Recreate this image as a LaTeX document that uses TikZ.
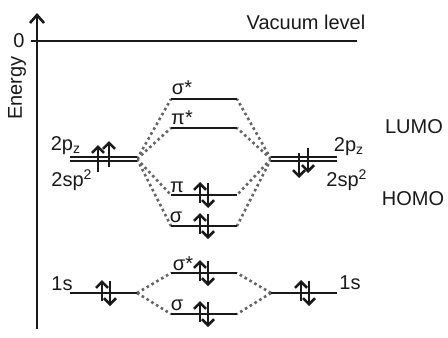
\documentclass[tikz,border=0pt]{standalone}
\usepackage{fontspec}
\setmainfont{Liberation Sans}
\usetikzlibrary{arrows.meta}

\newcommand{\coordOrbitales}{
\coordinate (EjeB) at (37,329);
\coordinate (EjeT) at (37,13);
\coordinate (CeroA) at (31,41);
\coordinate (CeroB) at (357,41);
\coordinate (IzqPa) at (70,159);
\coordinate (IzqPb) at (137,159);
\coordinate (IzqSa) at (70,293);
\coordinate (IzqSb) at (137,293);
\coordinate (DerPa) at (271,159);
\coordinate (DerPb) at (337,159);
\coordinate (DerSa) at (271,293);
\coordinate (DerSb) at (337,293);
\foreach \n/\y in {SigE/99,PiE/128,Pi/195,Sig/226,SigEs/273,Sigs/314}{
\coordinate (\n a) at (171,\y);
\coordinate (\n b) at (237,\y);
}
}
\newcommand{\nivelesOrbitales}{
\draw[nivelDoble] (IzqPa)--(IzqPb);
\draw[nivelDoble] (DerPa)--(DerPb);
\draw[nivel] (IzqSa)--(IzqSb);
\draw[nivel] (DerSa)--(DerSb);
\foreach \n in {SigE,PiE,Pi,Sig,SigEs,Sigs}{
\draw[nivel] (\n a)--(\n b);
}
}
\newcommand{\conexionesOrbitales}{
\foreach \n in {SigE,PiE,Pi,Sig}{
\draw[conexion] (IzqPb)--(\n a);
\draw[conexion] (DerPa)--(\n b);
}
\foreach \n in {SigEs,Sigs}{
\draw[conexion] (IzqSb)--(\n a);
\draw[conexion] (DerSa)--(\n b);
}
}
\newcommand{\parEspin}[2]{
\draw[espin] ([shift={(#2,8)}]#1) -- ++(0,-21);
\draw[espin] ([shift={(#2+8,-12)}]#1) -- ++(0,25);
}
\tikzset{
nivel/.style={black!90,line width=1.3pt},
nivelDoble/.style={draw=black!90,double,double distance=0.9pt,line width=0.9pt},
conexion/.style={black!60,line width=1.3pt,dash pattern=on 1.3pt off 1.5pt},
espin/.style={black!90,line width=1.3pt,-{Straight Barb[length=3pt,width=6pt]}},
eje/.style={black!90,line width=1.3pt},
etiqueta/.style={inner sep=0pt,font=\normalsize,text=black!90}
}

\begin{document}
\begin{tikzpicture}[x=0.5pt,y=-0.5pt]
    \useasboundingbox (0,0) rectangle (448,337);
    \coordOrbitales

    % eje de energia
    \draw[eje,-{Straight Barb[length=4pt,width=7pt]}] (EjeB)--(EjeT);
    \draw[eje] (CeroA)--(CeroB);
    \node[etiqueta] (cero) at (19,41) {0};
    \node[etiqueta,rotate=90] (energia) at (17,88) {Energy};
    \node[etiqueta] (vacio) at (306,22) {Vacuum level};

    \conexionesOrbitales
    \nivelesOrbitales

    % electrones
    \draw[espin] ([shift={(28,13)}]IzqPa) -- ++(0,-27);
    \draw[espin] ([shift={(39,8)}]IzqPa) -- ++(0,-26);
    \draw[espin] ([shift={(28,-6)}]DerPa) -- ++(0,25);
    \draw[espin] ([shift={(37,-11)}]DerPa) -- ++(0,25);
    \parEspin{IzqSa}{32}
    \parEspin{DerSa}{30}
    \foreach \n in {Pi,Sig,SigEs,Sigs}{
    \parEspin{\n a}{29}
    }

    % etiquetas
    \node[etiqueta] (pIzq) at (66,146) {2p\textsubscript{z}};
    \node[etiqueta] (spIzq) at (72,180) {2sp\textsuperscript{2}};
    \node[etiqueta] (pDer) at (349,147) {2p\textsubscript{z}};
    \node[etiqueta] (spDer) at (347,180) {2sp\textsuperscript{2}};
    \node[etiqueta] (sIzq) at (62,284) {1s};
    \node[etiqueta] (sDer) at (350,283) {1s};
    \node[etiqueta] (lumo) at (414,127) {LUMO};
    \node[etiqueta] (homo) at (413,199) {HOMO};
    \node[etiqueta] (sigE) at (182,88) {σ*};
    \node[etiqueta] (piE) at (182,118) {π*};
    \node[etiqueta] (pi) at (177,187) {π};
    \node[etiqueta] (sig) at (176,217) {σ};
    \node[etiqueta] (sigEs) at (183,264) {σ*};
    \node[etiqueta] (sigs) at (177,305) {σ};
\end{tikzpicture}
\end{document}
